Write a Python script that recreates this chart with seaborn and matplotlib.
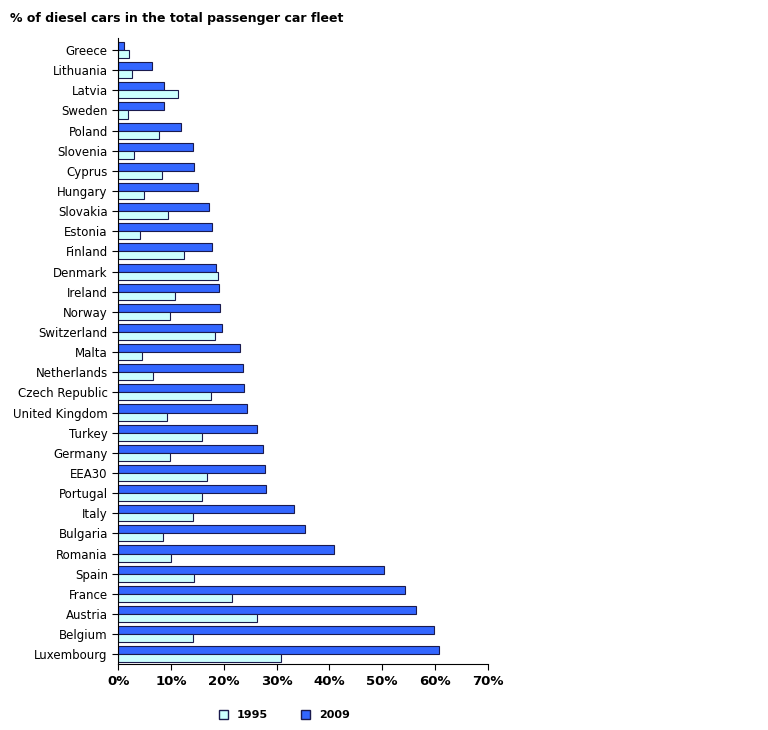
import matplotlib
matplotlib.use("Agg")
import matplotlib.pyplot as plt
import seaborn as sns
import pandas as pd
from matplotlib.ticker import FuncFormatter
from matplotlib.patches import Patch

countries = ["Greece","Lithuania","Latvia","Sweden","Poland","Slovenia","Cyprus","Hungary",
             "Slovakia","Estonia","Finland","Denmark","Ireland","Norway","Switzerland","Malta",
             "Netherlands","Czech Republic","United Kingdom","Turkey","Germany","EEA30","Portugal",
             "Italy","Bulgaria","Romania","Spain","France","Austria","Belgium","Luxembourg"]
v2009 = [1.1,6.4,8.7,8.7,11.9,14.2,14.4,15.1,17.2,17.8,17.8,18.5,19.1,19.3,19.7,23.1,
         23.6,23.8,24.4,26.3,27.4,27.8,28.0,33.3,35.4,40.9,50.3,54.3,56.4,59.8,60.7]
v1995 = [2.1,2.6,11.4,1.9,7.8,3.0,8.3,4.9,9.5,4.2,12.5,18.9,10.8,9.8,18.4,4.5,
         6.6,17.6,9.3,15.9,9.8,16.8,15.9,14.2,8.5,10.0,14.4,21.6,26.3,14.2,30.8]
years = ["2009","1995"]
colors = {"2009":"#3366ff","1995":"#ccffff"}

df = pd.concat([pd.DataFrame({"country":countries,"value":v2009,"year":"2009"}),
                pd.DataFrame({"country":countries,"value":v1995,"year":"1995"})])

fig = plt.figure(figsize=(7.68,7.30), dpi=100)
ax = fig.add_axes([0.154,0.09,0.481,0.858])
sns.barplot(data=df, y="country", x="value", hue="year", hue_order=years, order=countries,
            palette=colors, saturation=1, orient="h", width=0.8, edgecolor="#1a1a4d", linewidth=0.8,
            legend=False, ax=ax)
ax.set_xlim(0,70)
ax.set_xticks(range(0,71,10))
ax.xaxis.set_major_formatter(FuncFormatter(lambda v,p: f"{int(v)}%"))
ax.set_xlabel(""); ax.set_ylabel("")
ax.tick_params(axis="y", labelsize=8.5, length=4)
ax.tick_params(axis="x", labelsize=9.5, length=4)
for lab in ax.get_xticklabels(): lab.set_fontweight("bold")
for s in ["top","right"]: ax.spines[s].set_visible(False)
ax.set_ylim(len(countries)-0.5, -0.6)
fig.text(0.013,0.975,"% of diesel cars in the total passenger car fleet", fontsize=9, fontweight="bold", va="center")
handles = [Patch(facecolor=colors["1995"], edgecolor="#1a1a4d", label="1995"),
           Patch(facecolor=colors["2009"], edgecolor="#1a1a4d", label="2009")]
fig.legend(handles=handles, loc="center", bbox_to_anchor=(0.37,0.02), ncol=2, frameon=False,
           prop={"size":8,"weight":"bold"}, handlelength=0.8, handleheight=0.8, columnspacing=3)
fig.savefig("out.png", dpi=100)
